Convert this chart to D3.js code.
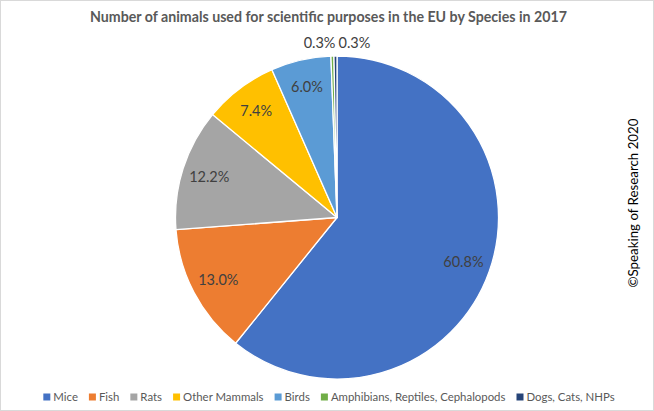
<!DOCTYPE html>
<html><head><meta charset="utf-8">
<script src="https://cdn.jsdelivr.net/npm/d3@7"></script>
<style>
html,body{margin:0;padding:0;background:#fff;}
svg{display:block;font-family:Lato,"Open Sans",sans-serif;}
</style></head>
<body>
<script>
const species = ["Mice","Fish","Rats","Other Mammals","Birds","Amphibians, Reptiles, Cephalopods","Dogs, Cats, NHPs"];
const shares = [60.8, 13.0, 12.2, 7.4, 6.0, 0.3, 0.3];
const colors = ["#4472C4","#ED7D31","#A5A5A5","#FFC000","#5B9BD5","#70AD47","#264478"];
const title = "Number of animals used for scientific purposes in the EU by Species in 2017";
const credit = "©Speaking of Research 2020";

const W = 654, H = 411;
const cx = 337, cy = 217.5, R = 161.5;

const svg = d3.select("body").append("svg").attr("width", W).attr("height", H);
svg.append("rect").attr("x",0.5).attr("y",0.5).attr("width",W-1).attr("height",H-1)
  .attr("fill","#fff").attr("stroke","#d9d9d9");

svg.append("text").attr("x", 328.5).attr("y", 22).attr("text-anchor","middle")
  .attr("font-weight","bold").attr("font-size",14.2).attr("fill","#595959").text(title);

const data = species.map((s,i)=>({name:s, value:shares[i], color:colors[i]}));
const pie = d3.pie().value(d=>d.value).sort(null);
const arcs = pie(data);
const arc = d3.arc().innerRadius(0).outerRadius(R);
const labelArc = d3.arc().innerRadius(R*0.83).outerRadius(R*0.83);
const outArc = d3.arc().innerRadius(R+12).outerRadius(R+12);

const g = svg.append("g").attr("transform",`translate(${cx},${cy})`);
g.selectAll("path").data(arcs).join("path")
  .attr("d", arc).attr("fill", d=>d.data.color)
  .attr("stroke","#fff").attr("stroke-width",1.3).attr("stroke-linejoin","round");

const fmt = d => d.data.value.toFixed(1) + "%";
g.selectAll("text.lbl").data(arcs).join("text").attr("class","lbl")
  .each(function(d,i){
    const t = d3.select(this);
    if (d.data.value >= 1) {
      const [x,y] = labelArc.centroid(d);
      t.attr("x",x).attr("y",y).attr("text-anchor","middle").attr("dy","0.35em");
    } else {
      const [x,y] = outArc.centroid(d);
      const small = arcs.filter(a=>a.data.value<1);
      const k = small.indexOf(d);
      t.attr("x", k===0 ? -1.5 : 1.5).attr("y", y - 1).attr("dy","0.35em")
       .attr("text-anchor", k===0 ? "end" : "start");
    }
  })
  .attr("font-size",14.5).attr("fill","#404040").text(fmt);

// legend
const legend = svg.append("g").attr("transform","translate(0,397)");
const items = legend.selectAll("g").data(data).join("g");
items.append("rect").attr("width",7).attr("height",7).attr("y",-3.5).attr("fill",d=>d.color);
items.append("text").attr("x",10).attr("dy","0.35em").attr("font-size",11.4)
  .attr("fill","#595959").text(d=>d.name);
let xpos = 0; const gap = 11; const widths=[];
items.each(function(){ widths.push(this.getBBox().width); });
const total = d3.sum(widths) + gap*(widths.length-1);
xpos = (W - total)/2 + 2;
items.each(function(d,i){ d3.select(this).attr("transform",`translate(${xpos},0)`); xpos += widths[i] + gap; });

svg.append("text").attr("transform",`translate(638,203) rotate(-90)`)
  .attr("text-anchor","middle").attr("font-size",13.3).attr("fill","#000").text(credit);
</script>
</body></html>
